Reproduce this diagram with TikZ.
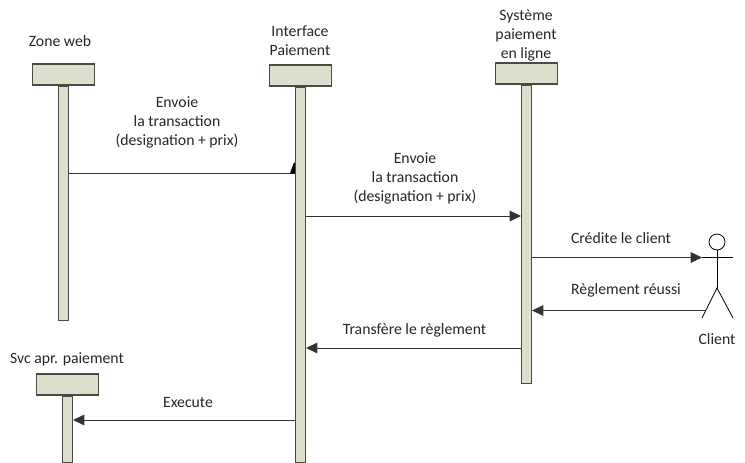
\documentclass[tikz,border=0pt]{standalone}
\usepackage{fontspec}
\setmainfont{Carlito}
\usepackage{xcolor}
\usetikzlibrary{arrows.meta, calc}

\definecolor{lifefill}{HTML}{DDDFCC}
\definecolor{lifeline}{HTML}{4A4A44}

\tikzset{
	headbox/.style={draw=lifeline, fill=lifefill, line width=0.8pt, inner sep=0pt, minimum width=46.5pt, minimum height=15.75pt},
	barbox/.style={draw=lifeline, fill=lifefill, line width=0.8pt, inner sep=0pt, anchor=north, minimum width=7.5pt, minimum height=#1*0.75pt},
	msg/.style={draw=black!80, line width=0.6pt, -{Triangle[length=8.5pt, width=8pt]}},
	plainmsg/.style={draw=black!80, line width=0.6pt},
	lbl/.style={font=\fontsize{11.8}{14.25}\selectfont, text=black!85, align=center, inner sep=0pt},
	stick/.style={draw=black, line width=0.6pt}
}

\begin{document}
\begin{tikzpicture}[x=0.75pt, y=-0.75pt]
	\useasboundingbox (0,0) rectangle (745,462);

	% lifelines
	\node [headbox] (webHead) at (63.5,74.5) {};
	\node [barbox=234] (webBar) at (webHead.south) {};
	\node [headbox] (payHead) at (300.5,75.5) {};
	\node [barbox=375] (payBar) at (payHead.south) {};
	\node [headbox] (sysHead) at (526.5,73.5) {};
	\node [barbox=298] (sysBar) at (sysHead.south) {};
	\node [headbox] (svcHead) at (67.5,384.5) {};
	\node [barbox=66] (svcBar) at (svcHead.south) {};

	\node [lbl] (webLabel) at (60,41) {Zone web};
	\node [lbl] (payLabel) at (300,41) {Interface\\Paiement};
	\node [lbl] (sysLabel) at (526,35) {Système\\paiement\\en ligne};
	\node [lbl] (svcLabel) at (67,359) {Svc apr. paiement};

	% client
	\node [draw=black, fill=white, circle, line width=0.6pt, minimum size=12pt, inner sep=0pt] (clientHead) at (717,242) {};
	\coordinate (clientHip) at (717,288);
	\coordinate (clientArmL) at (702,257.5);
	\coordinate (clientArmR) at (733,257.5);
	\coordinate (clientFootL) at (702,318);
	\coordinate (clientFootR) at (733,318);
	\draw [stick] (clientHead) -- (clientHip);
	\draw [stick] (clientFootL) -- (clientHip) -- (clientFootR);
	\draw [stick] (clientArmL) -- (clientArmR);
	\node [lbl] (clientLabel) at (717,339) {Client};

	% messages
	\draw [plainmsg] (webBar.east |- 0,173.5) -- (payBar.west |- 0,173.5);
	\fill [black] ($(payBar.west |- 0,173.5)$) -- ++(-5,0) -- ++(4,-11) -- ++(1,0) -- cycle;
	\node [lbl] (webMsg) at (177,122) {Envoie\\la transaction\\(designation + prix)};

	\draw [msg] (payBar.east |- 0,216) -- (sysBar.west |- 0,216);
	\node [lbl] (payMsg) at (415,178.5) {Envoie\\la transaction\\(designation + prix)};

	\draw [msg] (sysBar.east |- 0,257.5) -- (clientArmL);
	\node [lbl] (creditMsg) at (621,238) {Crédite le client};

	\coordinate (clientLeg) at (705.5,310.5);
	\draw [msg] (clientLeg) -- (sysBar.east |- clientLeg);
	\node [lbl] (okMsg) at (626,290) {Règlement réussi};

	\draw [msg] (sysBar.west |- 0,348) -- (payBar.east |- 0,348);
	\node [lbl] (transferMsg) at (414.5,330) {Transfère le règlement};

	\draw [msg] (payBar.west |- 0,420) -- (svcBar.east |- 0,420);
	\node [lbl] (execMsg) at (188,402) {Execute};
\end{tikzpicture}
\end{document}
